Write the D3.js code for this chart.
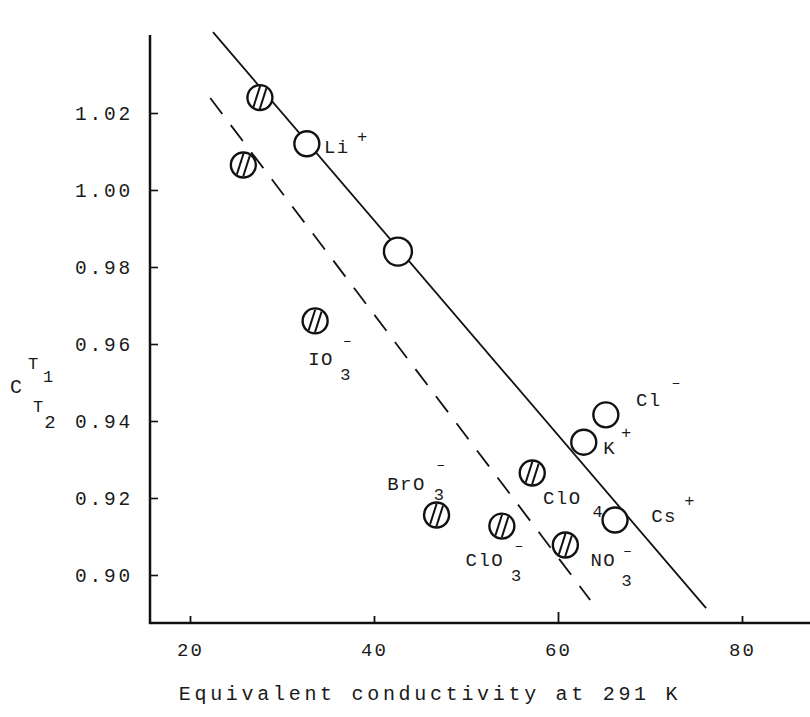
<!DOCTYPE html>
<html>
<head>
<meta charset="utf-8">
<script src="https://cdn.jsdelivr.net/npm/d3@7/dist/d3.min.js"></script>
<style>
  html, body { margin: 0; padding: 0; background: #fff; }
  svg text { font-family: "Liberation Mono", "DejaVu Sans Mono", monospace; fill: #1a1a1a; }
</style>
</head>
<body>
<svg id="chart" width="810" height="717"></svg>
<script>
// ---- data ----
const xTicks = [20, 40, 60, 80];
const yTicks = [0.90, 0.92, 0.94, 0.96, 0.98, 1.00, 1.02];

// hatched points
const hatchedNames = ["", "", "IO3-", "BrO3-", "ClO4", "ClO3-", "NO3-"];
const hatchedX = [27.6, 25.8, 33.6, 46.8, 57.2, 53.9, 60.8];
const hatchedY = [1.024, 1.0065, 0.966, 0.9156, 0.9265, 0.9127, 0.9078];

// open points
const openNames = ["Li+", "", "Cl-", "K+", "Cs+"];
const openX = [32.7, 42.6, 65.2, 62.8, 66.2];
const openY = [1.012, 0.984, 0.9416, 0.9345, 0.9143];
const openBig = [false, true, false, false, false];

// fitted lines (start, end)
const solidLineX = [22.5, 76.1];
const solidLineY = [1.041, 0.8914];
const dashedLineX = [22.2, 63.5];
const dashedLineY = [1.0239, 0.8935];

// ---- label layout (pixel offsets from point centre) ----
const labelParts = {
  "Li+":  [{t:"Li", dx:30, dy:4, s:19}, {t:"+", dx:56, dy:-6, s:17}],
  "IO3-": [{t:"IO", dx:6, dy:39, s:19}, {t:"3", dx:31, dy:55, s:17}, {t:"\u2012", dx:33, dy:21, s:15}],
  "BrO3-":[{t:"BrO", dx:-30, dy:-30, s:19}, {t:"3", dx:3, dy:-19, s:17}, {t:"\u2012", dx:5, dy:-49, s:15}],
  "ClO4": [{t:"ClO", dx:30, dy:26, s:19}, {t:"4", dx:66, dy:40, s:17}],
  "ClO3-":[{t:"ClO", dx:-17, dy:35, s:19}, {t:"3", dx:15, dy:50, s:17}, {t:"\u2012", dx:18, dy:20, s:15}],
  "NO3-": [{t:"NO", dx:38, dy:16, s:19}, {t:"\u2012", dx:63, dy:7, s:15}, {t:"3", dx:62, dy:37, s:17}],
  "Cl-":  [{t:"Cl", dx:43, dy:-14, s:19}, {t:"\u2012", dx:71, dy:-31, s:15}],
  "K+":   [{t:"K", dx:26, dy:7, s:19}, {t:"+", dx:43, dy:-9, s:17}],
  "Cs+":  [{t:"Cs", dx:49, dy:-3, s:19}, {t:"+", dx:75, dy:-18, s:17}]
};

const svg = d3.select("#chart");
const x = d3.scaleLinear().domain([20, 80]).range([190, 742]);
const y = d3.scaleLinear().domain([0.90, 1.02]).range([575, 113]);

const axisX0 = 150, axisY0 = 623;
const ink = "#111";

// axes lines
svg.append("line").attr("x1", axisX0).attr("x2", axisX0).attr("y1", 35).attr("y2", axisY0 + 1)
  .attr("stroke", ink).attr("stroke-width", 2.5);
svg.append("line").attr("x1", axisX0 - 1).attr("x2", 810).attr("y1", axisY0).attr("y2", axisY0)
  .attr("stroke", ink).attr("stroke-width", 2.5);

// x axis
const gx = svg.append("g").attr("transform", `translate(0,${axisY0})`)
  .call(d3.axisBottom(x).tickValues(xTicks).tickSize(-7).tickPadding(20).tickFormat(d3.format("d")));
gx.select(".domain").remove();
gx.selectAll(".tick line").attr("stroke", ink).attr("stroke-width", 1.8)
  .attr("y2", d => d === 60 ? -11 : -7);
gx.selectAll(".tick text").attr("font-size", 19).attr("font-family", "Liberation Mono")
  .attr("fill", "#1a1a1a").style("letter-spacing", "2px");

// y axis
const gy = svg.append("g").attr("transform", `translate(${axisX0},0)`)
  .call(d3.axisLeft(y).tickValues(yTicks).tickSize(-8).tickPadding(17).tickFormat(d3.format(".2f")));
gy.select(".domain").remove();
gy.selectAll(".tick line").attr("stroke", ink).attr("stroke-width", 1.6);
gy.selectAll(".tick text").attr("font-size", 19.5).attr("font-family", "Liberation Mono")
  .attr("fill", "#1a1a1a").style("letter-spacing", "2.8px");

// axis titles
svg.append("text").attr("x", 430).attr("y", 700).attr("text-anchor", "middle")
  .attr("font-size", 20).style("letter-spacing", "3.7px")
  .text("Equivalent conductivity at 291 K");

const yl = svg.append("g");
[{t:"T", x:33, y:364, s:17}, {t:"1", x:48, y:377, s:17}, {t:"C", x:16, y:387, s:20},
 {t:"T", x:38, y:407, s:17}, {t:"2", x:50, y:423, s:19}].forEach(p => {
  yl.append("text").attr("x", p.x).attr("y", p.y).attr("text-anchor", "middle")
    .attr("dominant-baseline", "central").attr("font-size", p.s).text(p.t);
});

// fitted lines
svg.append("line")
  .attr("x1", x(solidLineX[0])).attr("y1", y(solidLineY[0]))
  .attr("x2", x(solidLineX[1])).attr("y2", y(solidLineY[1]))
  .attr("stroke", ink).attr("stroke-width", 1.8);
svg.append("line")
  .attr("x1", x(dashedLineX[0])).attr("y1", y(dashedLineY[0]))
  .attr("x2", x(dashedLineX[1])).attr("y2", y(dashedLineY[1]))
  .attr("stroke", ink).attr("stroke-width", 1.8).attr("stroke-dasharray", "20,14");

// hatched circles
const R = 12.5;
const defs = svg.append("defs");
hatchedX.forEach((vx, i) => {
  const cx = x(vx), cy = y(hatchedY[i]);
  defs.append("clipPath").attr("id", "clip" + i)
    .append("circle").attr("cx", cx).attr("cy", cy).attr("r", R - 1);
  const g = svg.append("g");
  g.append("circle").attr("cx", cx).attr("cy", cy).attr("r", R)
    .attr("fill", "#fff").attr("stroke", ink).attr("stroke-width", 2.4);
  [-3.5, 3.5].forEach(o => {
    g.append("line").attr("clip-path", `url(#clip${i})`)
      .attr("x1", cx + o - 4).attr("y1", cy + R)
      .attr("x2", cx + o + 4).attr("y2", cy - R)
      .attr("stroke", ink).attr("stroke-width", 2);
  });
});

// open circles
openX.forEach((vx, i) => {
  svg.append("circle").attr("cx", x(vx)).attr("cy", y(openY[i]))
    .attr("r", openBig[i] ? 14 : R)
    .attr("fill", "#fff").attr("stroke", ink).attr("stroke-width", 2.4);
});

// labels
function drawLabel(name, px, py) {
  const parts = labelParts[name];
  if (!parts) return;
  parts.forEach(p => {
    svg.append("text").attr("x", px + p.dx).attr("y", py + p.dy)
      .attr("text-anchor", "middle").attr("dominant-baseline", "central")
      .attr("font-size", p.s).style("letter-spacing", "1.5px").text(p.t);
  });
}
hatchedNames.forEach((n, i) => drawLabel(n, x(hatchedX[i]), y(hatchedY[i])));
openNames.forEach((n, i) => drawLabel(n, x(openX[i]), y(openY[i])));
</script>
</body>
</html>
